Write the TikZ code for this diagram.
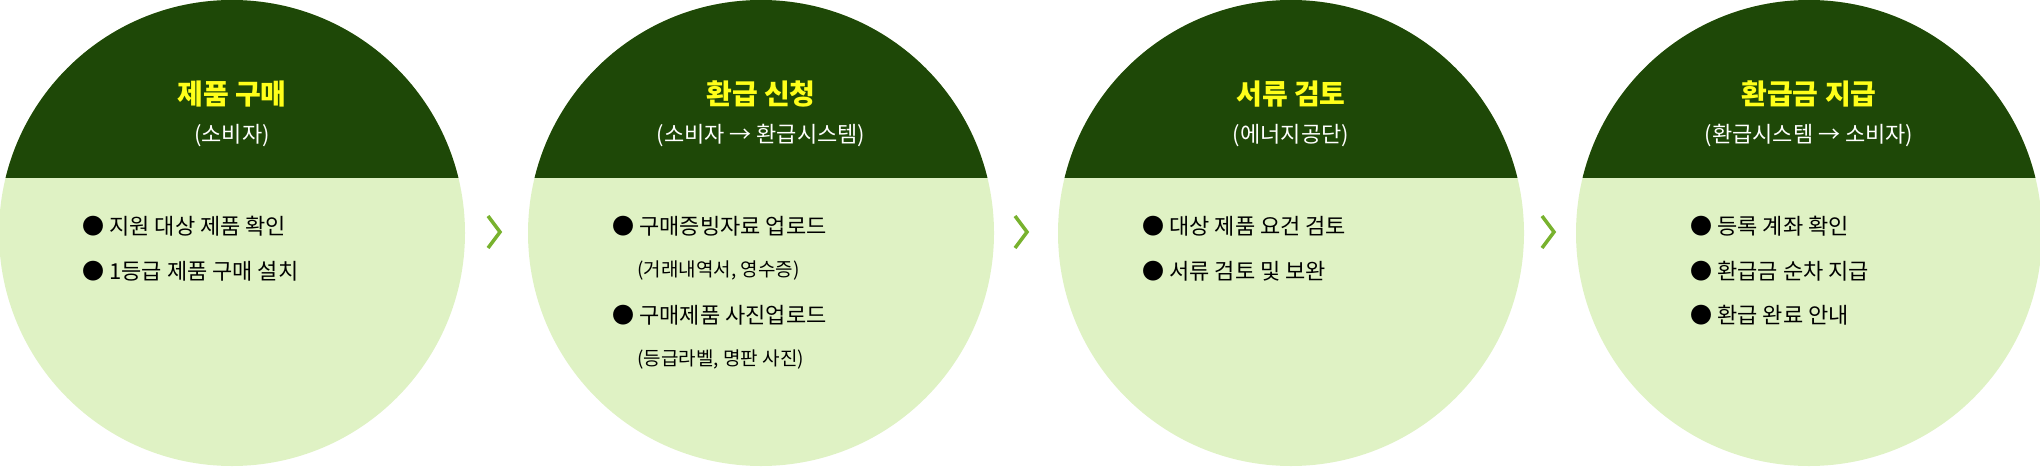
\documentclass[tikz,border=0pt]{standalone}
\usepackage{fontspec}
\newfontfamily\kr{Noto Sans CJK KR}
\definecolor{dk}{HTML}{1E4807}
\definecolor{lt}{HTML}{DFF2C4}
\definecolor{yl}{HTML}{FFFF1A}
\definecolor{ar}{HTML}{78B22E}
\begin{document}
\begin{tikzpicture}[x=1pt,y=-1pt,
  ttl/.style={text=yl,font=\kr\bfseries\fontsize{28}{32}\selectfont},
  sub/.style={text=white,font=\kr\fontsize{22}{26}\selectfont},
  body/.style={anchor=west,text=black,font=\kr\fontsize{22}{26}\selectfont},
  small/.style={anchor=west,text=black,font=\kr\fontsize{19}{22}\selectfont},
  chev/.style={draw=ar,line width=3.5pt}]
\useasboundingbox (0,0) rectangle (2040,466);
\foreach \cx/\nm in {232/a,761/b,1291/c,1809/d}{
  \fill[lt] (\cx,233) circle (233);
  \begin{scope}
    \clip (\cx,233) circle (233);
    \fill[dk] (\cx-240,0) rectangle (\cx+240,178);
  \end{scope}
  \coordinate (\nm) at (\cx,233);
}
\node[ttl] (t1) at (232,94) {제품 구매};
\node[sub] (s1) at (232,136) {(소비자)};
\node[ttl] (t2) at (761,94) {환급 신청};
\node[sub] (s2) at (761,136) {(소비자 → 환급시스템)};
\node[ttl] (t3) at (1291,94) {서류 검토};
\node[sub] (s3) at (1291,136) {(에너지공단)};
\node[ttl] (t4) at (1809,94) {환급금 지급};
\node[sub] (s4) at (1809,136) {(환급시스템 → 소비자)};
\node[body] (b11) at (79,226) {● 지원 대상 제품 확인};
\node[body] (b12) at (79,271) {● 1등급 제품 구매 설치};
\node[body] (b21) at (609,226) {● 구매증빙자료 업로드};
\node[small] (b22) at (634,271) {(거래내역서, 영수증)};
\node[body] (b23) at (609,315) {● 구매제품 사진업로드};
\node[small] (b24) at (634,359) {(등급라벨, 명판 사진)};
\node[body] (b31) at (1139,226) {● 대상 제품 요건 검토};
\node[body] (b32) at (1139,271) {● 서류 검토 및 보완};
\node[body] (b41) at (1687,226) {● 등록 계좌 확인};
\node[body] (b42) at (1687,271) {● 환급금 순차 지급};
\node[body] (b43) at (1687,315) {● 환급 완료 안내};
\foreach \x/\n in {492/p1,1019/p2,1546/p3}{
  \coordinate (\n) at (\x+8,232);
  \draw[chev] (\x-4,216) -- (\n) -- (\x-4,248);
}
\end{tikzpicture}
\end{document}
